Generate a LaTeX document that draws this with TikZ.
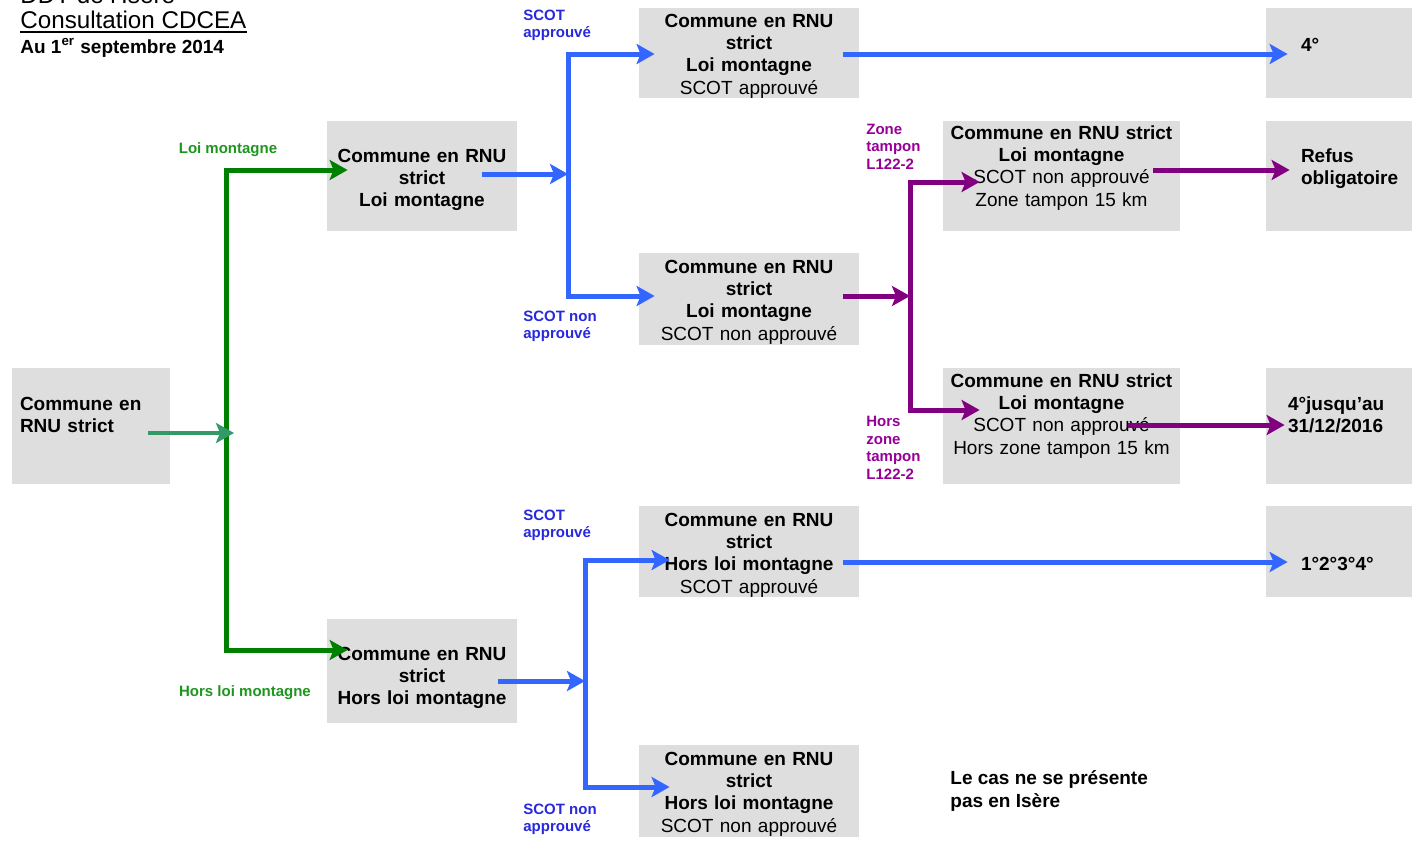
\documentclass[tikz,border=0pt]{standalone}
\usepackage{fontspec}
\setmainfont{Liberation Sans}
\usetikzlibrary{arrows.meta}

\definecolor{boxgray}{RGB}{222,222,222}
\definecolor{lmgreen}{RGB}{0,128,0}
\definecolor{lmteal}{RGB}{51,153,102}
\definecolor{lmgreentxt}{RGB}{30,150,30}
\definecolor{scotblue}{RGB}{51,102,255}
\definecolor{scottxt}{RGB}{40,40,220}
\definecolor{zonepurple}{RGB}{128,0,128}
\definecolor{zonetxt}{RGB}{150,0,150}

\begin{document}
\begin{tikzpicture}[x=0.5pt,y=-0.5pt,
    box/.style={fill=boxgray, inner sep=0pt, align=center,
      font=\fontsize{9.5}{11.2}\selectfont\bfseries},
    res/.style={box, text width=65pt, inner xsep=17.5pt, align=left},
    lab/.style={inner sep=0pt, align=left, font=\fontsize{7.5}{8.8}\selectfont\bfseries},
    arr/.style={-{Stealth[length=9pt,width=10pt,inset=2pt]}},
    elbow/.style={to path={|- (\tikztotarget)}}]

        \useasboundingbox (0,0) rectangle (1412,841);
        \clip (0,0) rectangle (1412,841);

        % header
        \begin{scope}[every node/.style={anchor=base west, inner sep=0pt}]
          \node[font=\fontsize{12.1}{14}\selectfont] (ddt)  at (20,3)  {DDT de l'Isère};
          \node[font=\fontsize{12.1}{14}\selectfont] (cons) at (20,28) {Consultation CDCEA};
          \node[font=\fontsize{9.5}{11}\selectfont\bfseries] (date) at (20,53) {Au 1\textsuperscript{er} septembre 2014};
        \end{scope}
        \draw[line width=1pt] ([yshift=-2pt]cons.base west) -- ([yshift=-2pt]cons.base east);

        % boxes
        \begin{scope}[every node/.style={box}]
          \node[text width=71pt, inner xsep=4pt, align=left, text height=21pt, text depth=37pt]
            (rnu)  at (91,426)   {Commune en\\ RNU strict};
          \node[text width=95pt, text height=20.5pt, text depth=34.5pt] (lm)  at (422,176) {Commune en RNU\\ strict\\ Loi montagne};
          \node[text width=95pt, text height=20.5pt, text depth=31.5pt] (hlm) at (422,671) {Commune en RNU\\ strict\\ Hors loi montagne};
          \node[text width=110pt, text height=9.5pt, text depth=35.5pt] (lmsa) at (749,53)  {Commune en RNU\\ strict\\ Loi montagne\\ \mdseries SCOT approuvé};
          \node[text width=110pt, text height=10pt, text depth=36pt]    (lmsn) at (749,299) {Commune en RNU\\ strict\\ Loi montagne\\ \mdseries SCOT non approuvé};
          \node[text width=118.5pt, text height=9pt, text depth=46pt]   (zt)  at (1061.5,176) {Commune en RNU strict\\ Loi montagne\\ \mdseries SCOT non approuvé\\ \mdseries Zone tampon 15 km};
          \node[text width=118.5pt, text height=9.5pt, text depth=48.5pt] (hzt) at (1061.5,426) {Commune en RNU strict\\ Loi montagne\\ \mdseries SCOT non approuvé\\ \mdseries Hors zone tampon 15 km};
          \node[text width=110pt, text height=10pt, text depth=35.5pt]  (hsa) at (749,551.5) {Commune en RNU\\ strict\\ Hors loi montagne\\ \mdseries SCOT approuvé};
          \node[text width=110pt, text height=10pt, text depth=36pt]    (hsn) at (749,791)   {Commune en RNU\\ strict\\ Hors loi montagne\\ \mdseries SCOT non approuvé};
        \end{scope}

        % results
        \begin{scope}[every node/.style={res}]
          \node[text height=21.5pt, text depth=23.5pt] (r4)    at (1366,53)    {4°};
          \node[text height=20.5pt, text depth=34.5pt] (refus) at (1366,176)   {Refus\\ obligatoire};
          \node[text height=21pt, text depth=37pt, inner xsep=11pt, text width=78pt]
                                                       (r2016) at (1366,426)   {4°jusqu'au\\ 31/12/2016};
          \node[text height=32pt, text depth=13.5pt]   (rall)  at (1366,551.5) {1°2°3°4°};
        \end{scope}
        \node[box, fill=none, align=left, anchor=west] (note) at (950,791) {Le cas ne se présente\\ pas en Isère};

        % labels
        \begin{scope}[every node/.style={lab}]
          \node[text=lmgreentxt] (llm)  at (228,150) {Loi montagne};
          \node[text=lmgreentxt] (lhlm) at (245,693) {Hors loi montagne};
          \node[text=scottxt, anchor=west] (lsa1) at (523,25.5)  {SCOT\\ approuvé};
          \node[text=scottxt, anchor=west] (lsn1) at (523,326.5) {SCOT non\\ approuvé};
          \node[text=scottxt, anchor=west] (lsa2) at (523,525.5) {SCOT\\ approuvé};
          \node[text=scottxt, anchor=west] (lsn2) at (523,819.5) {SCOT non\\ approuvé};
          \node[text=zonetxt, anchor=west] (lzt)  at (866,146.5) {Zone\\ tampon\\ L122-2};
          \node[text=zonetxt, anchor=west] (lhzt) at (866,448)   {Hors\\ zone\\ tampon\\ L122-2};
        \end{scope}

        \coordinate (gj)  at (226,433);
        \coordinate (gin) at (234,433);
        \coordinate (sj1) at (568,174);
        \coordinate (sj2) at (585,681);
        \coordinate (zj)  at (910,296);

        \begin{scope}[line width=2.5pt]

          \begin{scope}[lmgreen, every edge/.style={draw, arr, elbow}]
            \path (gj) edge ([shift={(21,-6)}]lm.west);
            \path (gj) edge ([shift={(21,-21)}]hlm.west);
          \end{scope}
          \path[lmteal, line width=2pt] ([shift={(-22,7)}]rnu.east) edge[draw, arr] (gin);

          \begin{scope}[scotblue, every edge/.style={draw, arr}]
            \path ([shift={(-35,-2)}]lm.east) edge (sj1);
            \path (sj1) edge[elbow] ([shift={(16,1)}]lmsa.west);
            \path (sj1) edge[elbow] ([shift={(16,-3)}]lmsn.west);
            \path ([shift={(-19,10)}]hlm.east) edge (sj2);
            \path (sj2) edge[elbow] ([shift={(31,8.5)}]hsa.west);
            \path (sj2) edge[elbow] ([shift={(31,-4)}]hsn.west);
            \path ([shift={(-16,1)}]lmsa.east) edge ([shift={(22,1)}]r4.west);
            \path ([shift={(-16,10.5)}]hsa.east) edge ([shift={(22,10.5)}]rall.west);
          \end{scope}

          \begin{scope}[zonepurple, every edge/.style={draw, arr}]
            \path ([shift={(-16,-3)}]lmsn.east) edge (zj);
            \path (zj) edge[elbow] ([shift={(37,6)}]zt.west);
            \path (zj) edge[elbow] ([shift={(37,-16)}]hzt.west);
            \path ([shift={(-27,-6)}]zt.east) edge ([shift={(24,-6)}]refus.west);
            \path ([shift={(-52,-1)}]hzt.east) edge ([shift={(19,-1)}]r2016.west);
          \end{scope}

        \end{scope}

      \end{tikzpicture}
\end{document}
